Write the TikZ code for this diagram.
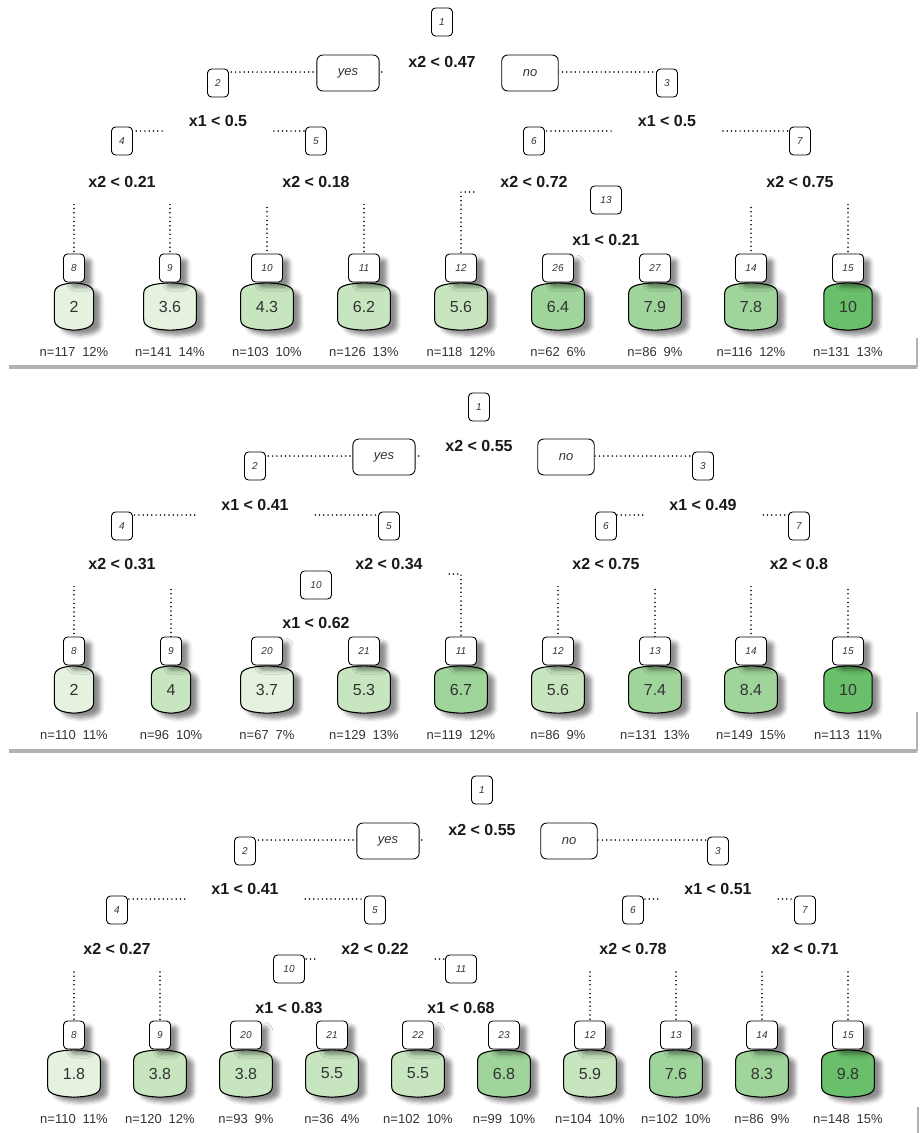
\documentclass[tikz,border=0pt]{standalone}
\usepackage{fontspec}
\setmainfont{Liberation Sans}
\usepackage{xcolor}
\usetikzlibrary{backgrounds, shadows.blur}

\definecolor{leafA}{HTML}{E5F2DF}
\definecolor{leafB}{HTML}{C7E5BF}
\definecolor{leafC}{HTML}{9FD49B}
\definecolor{leafD}{HTML}{6ABF6A}

\tikzset{
  numbox/.style={
    rectangle, rounded corners=4pt, draw=black, fill=white, line width=0.9pt,
    minimum width=21pt, minimum height=28pt, inner sep=0pt,
    font=\fontsize{10}{12}\selectfont\itshape, text=black!80
  },
  numboxw/.style={numbox, minimum width=31pt},
  leafbox/.style={
    numbox,
    blur shadow={shadow xshift=7pt, shadow yshift=-5pt, shadow blur radius=4pt, shadow opacity=45}
  },
  ynbox/.style={
    rectangle, rounded corners=6pt, draw=black, fill=white, line width=0.9pt,
    minimum height=36pt, inner xsep=21pt, inner ysep=0pt,
    font=\fontsize{13}{15}\selectfont\itshape, text=black!80
  },
  split/.style={
    rectangle, fill=white, inner xsep=25pt, inner ysep=0pt, minimum height=44pt,
    font=\fontsize{16}{18}\selectfont\bfseries, text=black!90
  },
  valbox/.style={
    rectangle, inner xsep=15pt, inner ysep=0pt, minimum height=47pt,
    font=\fontsize{16}{18}\selectfont
  },
  valtext/.style={font=\fontsize{16}{18}\selectfont, text=black!80, inner sep=0pt},
  barrel/.style={
    draw=black, line width=1.1pt,
    blur shadow={shadow xshift=7pt, shadow yshift=-5pt, shadow blur radius=4pt, shadow opacity=45}
  },
  ntext/.style={font=\fontsize{13}{15}\selectfont, text=black!80, inner sep=0pt},
  branch/.style={line width=1.7pt, line cap=round, dash pattern=on 0pt off 4.3pt, black},
  panelrule/.style={line width=4pt, black!30}
}

% leaf: name, x, y of number box, id, value, fill, n, percent
\newcommand{\leafnode}[8]{%
  \ifnum#4>9 \def\lfw{31pt}\else\def\lfw{21pt}\fi
  \node[valbox] (#1v) at (#2,#3+38.5) {\phantom{#5}};
  \path[barrel, fill=#6]
    ([yshift=-11pt]#1v.north west) .. controls ([yshift=-4pt]#1v.north west) and ([xshift=6pt,yshift=-1pt]#1v.north west) .. (#1v.north)
    .. controls ([xshift=-6pt,yshift=-1pt]#1v.north east) and ([yshift=-4pt]#1v.north east) .. ([yshift=-11pt]#1v.north east)
    -- ([yshift=11pt]#1v.south east)
    .. controls ([yshift=4pt]#1v.south east) and ([xshift=-6pt,yshift=1pt]#1v.south east) .. (#1v.south)
    .. controls ([xshift=6pt,yshift=1pt]#1v.south west) and ([yshift=4pt]#1v.south west) .. ([yshift=11pt]#1v.south west)
    -- cycle;
  \node[valtext] (#1t) at (#1v) {#5};
  \node[leafbox, minimum width=\lfw] (#1) at (#2,#3) {#4};
  \node[ntext] (#1n) at (#2,#3+84) {n=#7\hspace{7pt}#8\%};
}

\begin{document}
\begin{tikzpicture}[x=1pt, y=-1pt]
\useasboundingbox (0,0) rectangle (921,1133);

% Tree 1 — split labels
\node[split] (aS1)  at (442,62)  {x2 < 0.47};
\node[split] (aS2)  at (218,121) {x1 < 0.5};
\node[split] (aS3)  at (667,121) {x1 < 0.5};
\node[split] (aS4)  at (122,182) {x2 < 0.21};
\node[split] (aS5)  at (316,182) {x2 < 0.18};
\node[split] (aS6)  at (534,182) {x2 < 0.72};
\node[split] (aS7)  at (800,182) {x2 < 0.75};
\node[split] (aS13) at (606,240) {x1 < 0.21};

% Tree 1 — inner nodes
\node[numbox]  (aN1)  at (442,22)  {1};
\node[ynbox]   (aYes) at (348,73)  {yes};
\node[ynbox]   (aNo)  at (530,73)  {no};
\node[numbox]  (aN2)  at (218,83)  {2};
\node[numbox]  (aN3)  at (667,83)  {3};
\node[numbox]  (aN4)  at (122,141) {4};
\node[numbox]  (aN5)  at (316,141) {5};
\node[numbox]  (aN6)  at (534,141) {6};
\node[numbox]  (aN7)  at (800,141) {7};
\node[numboxw] (aN13) at (606,200) {13};

% Tree 1 — leaves
\leafnode{aL8}{74}{268}{8}{2}{leafA}{117}{12}
\leafnode{aL9}{170}{268}{9}{3.6}{leafA}{141}{14}
\leafnode{aL10}{267}{268}{10}{4.3}{leafB}{103}{10}
\leafnode{aL11}{364}{268}{11}{6.2}{leafB}{126}{13}
\leafnode{aL12}{461}{268}{12}{5.6}{leafB}{118}{12}
\leafnode{aL26}{558}{268}{26}{6.4}{leafC}{62}{6}
\leafnode{aL27}{655}{268}{27}{7.9}{leafC}{86}{9}
\leafnode{aL14}{751}{268}{14}{7.8}{leafC}{116}{12}
\leafnode{aL15}{848}{268}{15}{10}{leafD}{131}{13}

% Tree 2 — split labels
\node[split] (bS1)  at (479,446) {x2 < 0.55};
\node[split] (bS2)  at (255,505) {x1 < 0.41};
\node[split] (bS3)  at (703,505) {x1 < 0.49};
\node[split] (bS4)  at (122,564) {x2 < 0.31};
\node[split] (bS5)  at (389,564) {x2 < 0.34};
\node[split] (bS6)  at (606,564) {x2 < 0.75};
\node[split] (bS7)  at (799,564) {x2 < 0.8};
\node[split] (bS10) at (316,623) {x1 < 0.62};

% Tree 2 — inner nodes
\node[numbox]  (bN1)  at (479,407) {1};
\node[ynbox]   (bYes) at (384,457) {yes};
\node[ynbox]   (bNo)  at (566,457) {no};
\node[numbox]  (bN2)  at (255,466) {2};
\node[numbox]  (bN3)  at (703,466) {3};
\node[numbox]  (bN4)  at (122,526) {4};
\node[numbox]  (bN5)  at (389,526) {5};
\node[numbox]  (bN6)  at (606,526) {6};
\node[numbox]  (bN7)  at (799,526) {7};
\node[numboxw] (bN10) at (316,585) {10};

% Tree 2 — leaves
\leafnode{bL8}{74}{651}{8}{2}{leafA}{110}{11}
\leafnode{bL9}{171}{651}{9}{4}{leafB}{96}{10}
\leafnode{bL20}{267}{651}{20}{3.7}{leafA}{67}{7}
\leafnode{bL21}{364}{651}{21}{5.3}{leafB}{129}{13}
\leafnode{bL11}{461}{651}{11}{6.7}{leafC}{119}{12}
\leafnode{bL12}{558}{651}{12}{5.6}{leafB}{86}{9}
\leafnode{bL13}{655}{651}{13}{7.4}{leafC}{131}{13}
\leafnode{bL14}{751}{651}{14}{8.4}{leafC}{149}{15}
\leafnode{bL15}{848}{651}{15}{10}{leafD}{113}{11}

% Tree 3 — split labels
\node[split] (cS1)  at (482,830)  {x2 < 0.55};
\node[split] (cS2)  at (245,889)  {x1 < 0.41};
\node[split] (cS3)  at (718,889)  {x1 < 0.51};
\node[split] (cS4)  at (117,949)  {x2 < 0.27};
\node[split] (cS5)  at (375,949)  {x2 < 0.22};
\node[split] (cS6)  at (633,949)  {x2 < 0.78};
\node[split] (cS7)  at (805,949)  {x2 < 0.71};
\node[split] (cS10) at (289,1008) {x1 < 0.83};
\node[split] (cS11) at (461,1008) {x1 < 0.68};

% Tree 3 — inner nodes
\node[numbox]  (cN1)  at (482,790) {1};
\node[ynbox]   (cYes) at (388,841) {yes};
\node[ynbox]   (cNo)  at (569,841) {no};
\node[numbox]  (cN2)  at (245,851) {2};
\node[numbox]  (cN3)  at (718,851) {3};
\node[numbox]  (cN4)  at (117,910) {4};
\node[numbox]  (cN5)  at (375,910) {5};
\node[numbox]  (cN6)  at (633,910) {6};
\node[numbox]  (cN7)  at (805,910) {7};
\node[numboxw] (cN10) at (289,969) {10};
\node[numboxw] (cN11) at (461,969) {11};

% Tree 3 — leaves
\leafnode{cL8}{74}{1035}{8}{1.8}{leafA}{110}{11}
\leafnode{cL9}{160}{1035}{9}{3.8}{leafB}{120}{12}
\leafnode{cL20}{246}{1035}{20}{3.8}{leafB}{93}{9}
\leafnode{cL21}{332}{1035}{21}{5.5}{leafB}{36}{4}
\leafnode{cL22}{418}{1035}{22}{5.5}{leafB}{102}{10}
\leafnode{cL23}{504}{1035}{23}{6.8}{leafC}{99}{10}
\leafnode{cL12}{590}{1035}{12}{5.9}{leafB}{104}{10}
\leafnode{cL13}{676}{1035}{13}{7.6}{leafC}{102}{10}
\leafnode{cL14}{762}{1035}{14}{8.3}{leafC}{86}{9}
\leafnode{cL15}{848}{1035}{15}{9.8}{leafD}{148}{15}

% Branches (labels and boxes mask them)
\begin{scope}[on background layer]
  \draw[branch] ([yshift=-10pt]aS1.center)  -| (aN2.center);
  \draw[branch] ([yshift=-10pt]aS1.center)  -| (aN3.center);
  \draw[branch] ([yshift=-10pt]aS2.center)  -| (aN4.center);
  \draw[branch] ([yshift=-10pt]aS2.center)  -| (aN5.center);
  \draw[branch] ([yshift=-10pt]aS3.center)  -| (aN6.center);
  \draw[branch] ([yshift=-10pt]aS3.center)  -| (aN7.center);
  \draw[branch] ([yshift=-10pt]aS4.center)  -| (aL8.center);
  \draw[branch] ([yshift=-10pt]aS4.center)  -| (aL9.center);
  \draw[branch] ([yshift=-10pt]aS5.center)  -| (aL10.center);
  \draw[branch] ([yshift=-10pt]aS5.center)  -| (aL11.center);
  \draw[branch] ([yshift=-10pt]aS6.center)  -| (aL12.center);
  \draw[branch] ([yshift=-10pt]aS6.center)  -| (aN13.center);
  \draw[branch] ([yshift=-10pt]aS13.center) -| (aL26.center);
  \draw[branch] ([yshift=-10pt]aS13.center) -| (aL27.center);
  \draw[branch] ([yshift=-10pt]aS7.center)  -| (aL14.center);
  \draw[branch] ([yshift=-10pt]aS7.center)  -| (aL15.center);

  \draw[branch] ([yshift=-10pt]bS1.center)  -| (bN2.center);
  \draw[branch] ([yshift=-10pt]bS1.center)  -| (bN3.center);
  \draw[branch] ([yshift=-10pt]bS2.center)  -| (bN4.center);
  \draw[branch] ([yshift=-10pt]bS2.center)  -| (bN5.center);
  \draw[branch] ([yshift=-10pt]bS3.center)  -| (bN6.center);
  \draw[branch] ([yshift=-10pt]bS3.center)  -| (bN7.center);
  \draw[branch] ([yshift=-10pt]bS4.center)  -| (bL8.center);
  \draw[branch] ([yshift=-10pt]bS4.center)  -| (bL9.center);
  \draw[branch] ([yshift=-10pt]bS5.center)  -| (bN10.center);
  \draw[branch] ([yshift=-10pt]bS5.center)  -| (bL11.center);
  \draw[branch] ([yshift=-10pt]bS10.center) -| (bL20.center);
  \draw[branch] ([yshift=-10pt]bS10.center) -| (bL21.center);
  \draw[branch] ([yshift=-10pt]bS6.center)  -| (bL12.center);
  \draw[branch] ([yshift=-10pt]bS6.center)  -| (bL13.center);
  \draw[branch] ([yshift=-10pt]bS7.center)  -| (bL14.center);
  \draw[branch] ([yshift=-10pt]bS7.center)  -| (bL15.center);

  \draw[branch] ([yshift=-10pt]cS1.center)  -| (cN2.center);
  \draw[branch] ([yshift=-10pt]cS1.center)  -| (cN3.center);
  \draw[branch] ([yshift=-10pt]cS2.center)  -| (cN4.center);
  \draw[branch] ([yshift=-10pt]cS2.center)  -| (cN5.center);
  \draw[branch] ([yshift=-10pt]cS3.center)  -| (cN6.center);
  \draw[branch] ([yshift=-10pt]cS3.center)  -| (cN7.center);
  \draw[branch] ([yshift=-10pt]cS4.center)  -| (cL8.center);
  \draw[branch] ([yshift=-10pt]cS4.center)  -| (cL9.center);
  \draw[branch] ([yshift=-10pt]cS5.center)  -| (cN10.center);
  \draw[branch] ([yshift=-10pt]cS5.center)  -| (cN11.center);
  \draw[branch] ([yshift=-10pt]cS10.center) -| (cL20.center);
  \draw[branch] ([yshift=-10pt]cS10.center) -| (cL21.center);
  \draw[branch] ([yshift=-10pt]cS11.center) -| (cL22.center);
  \draw[branch] ([yshift=-10pt]cS11.center) -| (cL23.center);
  \draw[branch] ([yshift=-10pt]cS6.center)  -| (cL12.center);
  \draw[branch] ([yshift=-10pt]cS6.center)  -| (cL13.center);
  \draw[branch] ([yshift=-10pt]cS7.center)  -| (cL14.center);
  \draw[branch] ([yshift=-10pt]cS7.center)  -| (cL15.center);
\end{scope}

% Panel frame shadows
\draw[panelrule] (9,367) -- (917,367);
\draw[panelrule, line width=2pt] (917,338) -- (917,367);
\draw[panelrule] (9,751) -- (917,751);
\draw[panelrule, line width=2pt] (917,712) -- (917,751);
\draw[panelrule, line width=2pt] (918,1107) -- (918,1133);

\end{tikzpicture}
\end{document}
